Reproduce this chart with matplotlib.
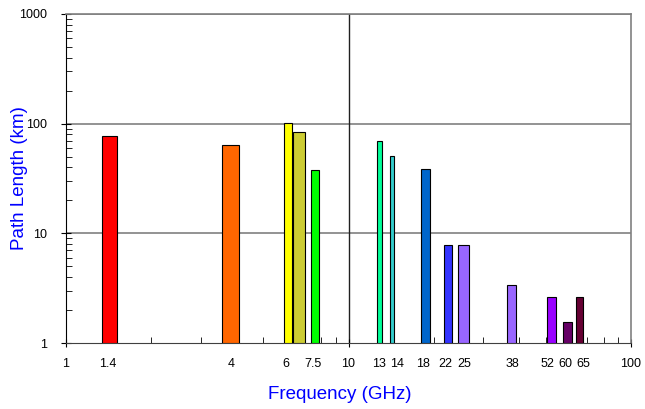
import numpy as np
import matplotlib.pyplot as plt
from matplotlib.ticker import FixedLocator, NullFormatter, LogLocator

plt.rcParams['font.family'] = ['Liberation Sans', 'DejaVu Sans']

# frequency bands (GHz): lower and upper edge of each bar
band_lo = [1.34, 3.58, 5.9, 6.36, 7.35, 12.62, 14.06, 18.05, 21.8, 24.4, 36.5, 50.5, 57.3, 64.0]
band_hi = [1.52, 4.10, 6.32, 7.03, 7.84, 13.11, 14.52, 19.4, 23.3, 26.6, 39.3, 54.3, 62.0, 67.8]
path_km = [78, 64, 102, 84, 38, 69, 51, 38.4, 7.9, 7.8, 3.4, 2.6, 1.56, 2.6]
colors = ['#FF0000', '#FF6600', '#FFFF00', '#CCCC33', '#00FF00', '#00FF99', '#33CCCC',
          '#0066CC', '#3333FF', '#9966FF', '#9966FF', '#9900FF', '#660066', '#660033']

# frequency labels under the axis, and where they sit (nudged apart like the original)
freq_labels = ['1', '1.4', '4', '6', '7.5', '10', '13', '14', '18', '22', '25', '38', '52', '60', '65', '100']
label_pos = [1, 1.4, 3.84, 6, 7.5, 10, 12.8, 14.8, 18.4, 22, 25.6, 38, 50.6, 58.4, 67.6, 100]

fig = plt.figure(figsize=(6.45, 4.09), dpi=100)
ax = fig.add_axes([66/645, 66/409, 565/645, 329/409])

ax.set_xscale('log')
ax.set_yscale('log')
ax.set_xlim(1, 100)
ax.set_ylim(1, 1000)

# grid lines
for yv in [10, 100, 1000]:
    ax.axhline(yv, color='#808080', lw=1.2, zorder=0)
ax.axvline(10, color='#202020', lw=1.0, zorder=0)

lo = np.array(band_lo)
hi = np.array(band_hi)
ax.bar(lo, np.array(path_km) - 1, width=hi - lo, bottom=1, align='edge',
       color=colors, edgecolor='black', linewidth=0.8, zorder=3)

# x ticks: only decades + minor marks, labels drawn as text
ax.xaxis.set_major_locator(FixedLocator([1, 10, 100]))
ax.xaxis.set_major_formatter(NullFormatter())
ax.xaxis.set_minor_locator(FixedLocator([2, 3, 5, 8, 9, 20, 30, 40, 50, 70, 80, 90]))
ax.xaxis.set_minor_formatter(NullFormatter())
ax.tick_params(axis='x', which='major', direction='inout', length=6)
ax.tick_params(axis='x', which='minor', direction='in', length=4)
for lab, xp in zip(freq_labels, label_pos):
    ax.text(xp, -0.065, lab, transform=ax.get_xaxis_transform(),
            ha='center', va='center', fontsize=9)

ax.tick_params(axis='y', which='major', direction='inout', length=7, labelsize=9, pad=10)
ax.tick_params(axis='y', which='minor', direction='in', length=4)
ax.yaxis.set_major_locator(FixedLocator([1, 10, 100, 1000]))
ax.set_yticklabels(['1', '10', '100', '1000'])
ax.yaxis.set_minor_locator(LogLocator(base=10, subs=np.arange(2, 10)))
ax.yaxis.set_minor_formatter(NullFormatter())

for s in ['top', 'right']:
    ax.spines[s].set_color('#808080')
    ax.spines[s].set_linewidth(1.2)
ax.spines['left'].set_color('black')
ax.spines['bottom'].set_color('#404040')

ax.set_xlabel('Frequency (GHz)', color='#0000FF', fontsize=13.5)
ax.xaxis.set_label_coords((340 - 66) / 565, -(386 - 343) / 329)
ax.set_ylabel('Path Length (km)', color='#0000FF', fontsize=13.5)
ax.yaxis.set_label_coords(-(66 - 28) / 565, (343 - 178) / 329)

fig.savefig('out.png', dpi=100)
